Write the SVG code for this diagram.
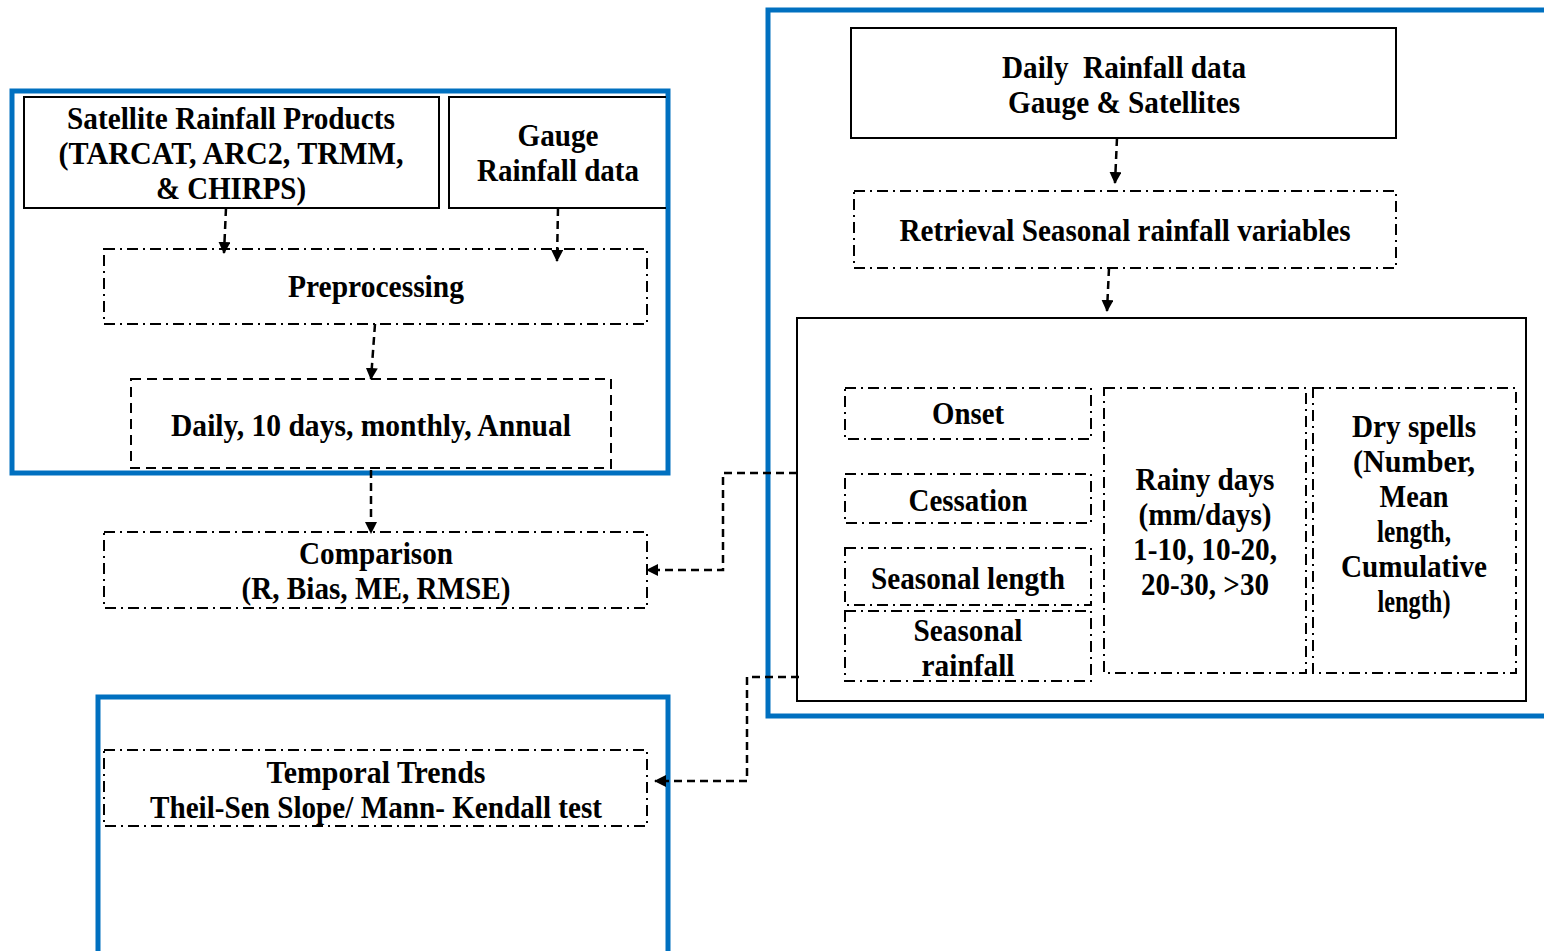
<svg xmlns="http://www.w3.org/2000/svg" width="1544" height="951" viewBox="0 0 1544 951">
<style>
.blue{fill:none;stroke:#0070C0;stroke-width:5}
.solid{fill:#fff;stroke:#000;stroke-width:2}
.dd{fill:none;stroke:#000;stroke-width:2;stroke-dasharray:11 5 2 5}
.dash{fill:none;stroke:#000;stroke-width:2;stroke-dasharray:10 6}
.plain{fill:none;stroke:#000;stroke-width:2}
.c{fill:none;stroke:#000;stroke-width:2.5;stroke-dasharray:8 5;marker-end:url(#ah)}
text{font-family:"Liberation Serif","Times New Roman",serif;font-weight:bold;font-size:32px;fill:#000;text-anchor:middle}
</style>
<defs>
<marker id="ah" viewBox="0 0 12 12" refX="11" refY="6" markerWidth="12" markerHeight="12" orient="auto" markerUnits="userSpaceOnUse">
<path d="M0,0 L12,6 L0,12 z" fill="#000"/>
</marker>
</defs>
<rect width="1544" height="951" fill="#fff"/>

<g id="frame-left"><rect class="blue" x="12" y="91" width="656" height="382"/></g>
<g id="frame-bottom"><rect class="blue" x="98" y="697" width="570" height="260"/></g>
<g id="frame-right"><rect class="blue" x="768" y="10" width="790" height="706"/></g>

<g id="satellite">
<rect class="solid" x="24" y="97" width="415" height="111"/>
<text x="231" y="129" textLength="328" lengthAdjust="spacingAndGlyphs">Satellite Rainfall Products</text>
<text x="231" y="164" textLength="345" lengthAdjust="spacingAndGlyphs">(TARCAT, ARC2, TRMM,</text>
<text x="231" y="199" textLength="150" lengthAdjust="spacingAndGlyphs">&amp; CHIRPS)</text>
</g>
<g id="gauge">
<path class="plain" d="M666,97 H449 V208 H666"/>
<text x="558" y="146" textLength="81" lengthAdjust="spacingAndGlyphs">Gauge</text>
<text x="558" y="181" textLength="162" lengthAdjust="spacingAndGlyphs">Rainfall data</text>
</g>
<g id="preprocessing">
<rect class="dd" x="104" y="249" width="543" height="75"/>
<text x="376" y="297" textLength="176" lengthAdjust="spacingAndGlyphs">Preprocessing</text>
</g>
<g id="daily">
<rect class="dash" x="131" y="379" width="480" height="89"/>
<text x="371" y="436" textLength="400" lengthAdjust="spacingAndGlyphs">Daily, 10 days, monthly, Annual</text>
</g>
<g id="comparison">
<rect class="dd" x="104" y="532" width="543" height="76"/>
<text x="376" y="564" textLength="154" lengthAdjust="spacingAndGlyphs">Comparison</text>
<text x="376" y="599" textLength="269" lengthAdjust="spacingAndGlyphs">(R, Bias, ME, RMSE)</text>
</g>
<g id="temporal">
<rect class="dd" x="104" y="750" width="543" height="76"/>
<text x="376" y="783" textLength="219" lengthAdjust="spacingAndGlyphs">Temporal Trends</text>
<text x="376" y="818" textLength="452" lengthAdjust="spacingAndGlyphs">Theil-Sen Slope/ Mann- Kendall test</text>
</g>

<g id="daily-rainfall">
<rect class="solid" x="851" y="28" width="545" height="110"/>
<text x="1124" y="78" textLength="244" lengthAdjust="spacingAndGlyphs" xml:space="preserve">Daily  Rainfall data</text>
<text x="1124" y="113" textLength="232" lengthAdjust="spacingAndGlyphs">Gauge &amp; Satellites</text>
</g>
<g id="retrieval">
<rect class="dd" x="854" y="191" width="542" height="77"/>
<text x="1125" y="241" textLength="451" lengthAdjust="spacingAndGlyphs">Retrieval Seasonal rainfall variables</text>
</g>
<g id="variables">
<rect class="plain" x="797" y="318" width="729" height="383"/>
</g>
<g id="onset">
<rect class="dd" x="845" y="388" width="246" height="51"/>
<text x="968" y="424" textLength="72" lengthAdjust="spacingAndGlyphs">Onset</text>
</g>
<g id="cessation">
<rect class="dd" x="845" y="474" width="246" height="49"/>
<text x="968" y="511" textLength="119" lengthAdjust="spacingAndGlyphs">Cessation</text>
</g>
<g id="seasonal-length">
<rect class="dd" x="845" y="548" width="246" height="57"/>
<text x="968" y="589" textLength="194" lengthAdjust="spacingAndGlyphs">Seasonal length</text>
</g>
<g id="seasonal-rainfall">
<rect class="dd" x="845" y="611" width="246" height="70"/>
<text x="968" y="641" textLength="109" lengthAdjust="spacingAndGlyphs">Seasonal</text>
<text x="968" y="676" textLength="93" lengthAdjust="spacingAndGlyphs">rainfall</text>
</g>
<g id="rainy-days">
<rect class="dd" x="1104" y="388" width="202" height="285"/>
<text x="1205" y="490" textLength="139" lengthAdjust="spacingAndGlyphs">Rainy days</text>
<text x="1205" y="525" textLength="133" lengthAdjust="spacingAndGlyphs">(mm/days)</text>
<text x="1205" y="560" textLength="144" lengthAdjust="spacingAndGlyphs">1-10, 10-20,</text>
<text x="1205" y="595" textLength="128" lengthAdjust="spacingAndGlyphs">20-30, &gt;30</text>
</g>
<g id="dry-spells">
<rect class="dd" x="1313" y="388" width="203" height="285"/>
<text x="1414" y="437" textLength="124" lengthAdjust="spacingAndGlyphs">Dry spells</text>
<text x="1414" y="472" textLength="122" lengthAdjust="spacingAndGlyphs">(Number,</text>
<text x="1414" y="507" textLength="69" lengthAdjust="spacingAndGlyphs">Mean</text>
<text x="1414" y="542" textLength="74" lengthAdjust="spacingAndGlyphs">length,</text>
<text x="1414" y="577" textLength="146" lengthAdjust="spacingAndGlyphs">Cumulative</text>
<text x="1414" y="612" textLength="73" lengthAdjust="spacingAndGlyphs">length)</text>
</g>

<g id="connectors">
<path class="c" d="M226,208 L224,253"/>
<path class="c" d="M558,208 L557,261"/>
<path class="c" d="M375,324 L371,379"/>
<path class="c" d="M371,470 L371,533"/>
<path class="c" d="M1117,138 L1115,183"/>
<path class="c" d="M1109,268 L1107,311"/>
<path class="c" d="M797,473 H723 V570 H647"/>
<path class="c" d="M799,677 H747 V781 H655"/>
</g>
</svg>
